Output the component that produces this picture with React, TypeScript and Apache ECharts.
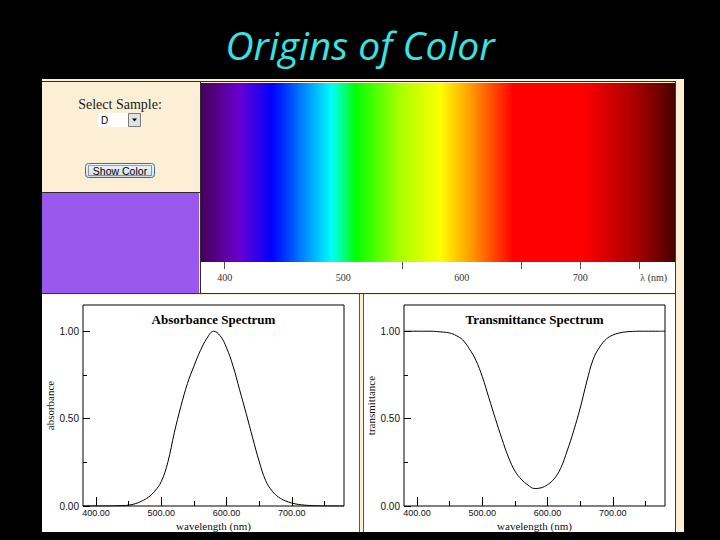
import React, { useEffect, useRef } from "react";
import * as echarts from "echarts";

// ---- data ----
const wavelengths = [380, 390, 400, 410, 420, 430, 440, 450, 460, 470, 480, 490, 500, 510, 520, 530, 540, 550, 560, 570, 580, 590, 600, 610, 620, 630, 640, 650, 660, 670, 680, 690, 700, 710, 720, 730, 740, 750, 760, 770, 780];
const absorbance = [0, 0, 0, 0, 0, 0.001, 0.002, 0.005, 0.013, 0.028, 0.05, 0.085, 0.14, 0.25, 0.42, 0.57, 0.7, 0.8, 0.89, 0.96, 1.0, 0.975, 0.905, 0.8, 0.665, 0.53, 0.39, 0.255, 0.145, 0.085, 0.05, 0.03, 0.017, 0.009, 0.005, 0.002, 0.001, 0, 0, 0, 0];
const transmittance = [1, 1, 1, 1, 1, 0.998, 0.995, 0.99, 0.975, 0.95, 0.9, 0.835, 0.74, 0.62, 0.5, 0.385, 0.28, 0.2, 0.152, 0.12, 0.1, 0.104, 0.122, 0.155, 0.215, 0.315, 0.43, 0.56, 0.71, 0.84, 0.91, 0.955, 0.978, 0.99, 0.996, 0.999, 1, 1, 1, 1, 1];

const spectrumNm = [380, 395, 412, 440, 462, 490, 510, 545, 582, 612, 643, 702, 728, 750, 768, 780];
const spectrumColors = ["#46005C", "#58008E", "#6A00D2", "#0000FF", "#0070FF", "#00FFFF", "#00FF00", "#A0FF00", "#FFFF00", "#FF8800", "#FF0000", "#FF0000", "#CC0000", "#A00000", "#6C0000", "#440000"];

const spectrumTicks = [400, 550, 650, 700, 750];
const spectrumLabels = [400, 500, 600, 700, 762];
const majorX = [400, 500, 600, 700];
const minorX = [450, 550, 650, 750];
const majorY = [0, 0.5, 1];
const minorY = [0.25, 0.75];

const SERIF = '"Liberation Serif", "DejaVu Serif", serif';
const SANS = '"Liberation Sans", Arial, sans-serif';
const BEIGE = "#FCEFD6";

function chartAxes(gridIndex: number, yName: string, yGap: number) {
  const xMajor = {
    type: "value", gridIndex, min: 380, max: 780, position: "bottom",
    axisLine: { show: false }, splitLine: { show: false },
    axisTick: { show: true, inside: true, length: 9, customValues: majorX, lineStyle: { color: "#000", width: 1 } },
    axisLabel: { show: true, customValues: majorX, margin: 2, fontSize: 9, fontFamily: SANS, color: "#111", formatter: (v: number) => v.toFixed(2) },
    name: "wavelength (nm)", nameLocation: "middle", nameGap: 14,
    nameTextStyle: { fontFamily: SERIF, fontSize: 11, color: "#111" },
  };
  const xMinor = {
    type: "value", gridIndex, min: 380, max: 780, position: "bottom",
    axisLine: { show: false }, splitLine: { show: false }, axisLabel: { show: false },
    axisTick: { show: true, inside: true, length: 5, customValues: minorX, lineStyle: { color: "#000", width: 1 } },
  };
  const yMajor = {
    type: "value", gridIndex, min: 0, max: 1.15, position: "left",
    axisLine: { show: false }, splitLine: { show: false },
    axisTick: { show: true, inside: true, length: 7, customValues: majorY, lineStyle: { color: "#000", width: 1 } },
    axisLabel: { show: true, customValues: majorY, margin: 4, fontSize: 10, fontFamily: SANS, color: "#111", formatter: (v: number) => v.toFixed(2) },
    name: yName, nameLocation: "middle", nameGap: yGap, nameRotate: 90,
    nameTextStyle: { fontFamily: SERIF, fontSize: 11, color: "#111" },
  };
  const yMinor = {
    type: "value", gridIndex, min: 0, max: 1.15, position: "left",
    axisLine: { show: false }, splitLine: { show: false }, axisLabel: { show: false },
    axisTick: { show: true, inside: true, length: 4, customValues: minorY, lineStyle: { color: "#000", width: 1 } },
  };
  return { xMajor, xMinor, yMajor, yMinor };
}

export default function App() {
  const ref = useRef<HTMLDivElement>(null);

  useEffect(() => {
    if (!ref.current) return;
    const chart = echarts.init(ref.current, null, { renderer: "svg" });

    const abs = chartAxes(1, "absorbance", 28);
    const tr = chartAxes(2, "transmittance", 27);

    const panel = (x: number, y: number, w: number, h: number, fill: string) => ({
      type: "rect", z: -10, silent: true, shape: { x, y, width: w, height: h }, style: { fill },
    });
    const hline = (x1: number, x2: number, y: number, color: string) => ({
      type: "line", z: -9, silent: true, shape: { x1, y1: y, x2, y2: y }, style: { stroke: color, lineWidth: 1 },
    });
    const vline = (x: number, y1: number, y2: number, color: string) => ({
      type: "line", z: -9, silent: true, shape: { x1: x, y1, x2: x, y2 }, style: { stroke: color, lineWidth: 1 },
    });

    const option: any = {
      animation: false,
      backgroundColor: "#000000",
      title: {
        text: "Origins of Color", left: "center", top: 20,
        textStyle: { color: "#38E3E3", fontStyle: "italic", fontWeight: "normal", fontFamily: "'Open Sans', 'Noto Sans', sans-serif", fontSize: 39 },
      },
      graphic: [
        panel(42, 79, 642, 453, BEIGE),
        hline(42, 676, 81.5, "#2b2b2b"),
        hline(42, 200, 192.5, "#2b2b2b"),
        panel(42, 193, 157, 100, "#9B58EE"),
        vline(200.5, 82, 293, "#2b2b2b"),
        panel(201, 262, 474, 31, "#FFFFFF"),
        hline(42, 676, 293.5, "#333333"),
        panel(42, 295, 317, 237, "#FFFFFF"),
        vline(359.5, 294, 532, "#555555"),
        vline(363.5, 294, 532, "#555555"),
        panel(364, 295, 312, 237, "#FFFFFF"),
        vline(675.5, 82, 532, "#3a3a3a"),
        // sample selector
        { type: "text", z: -8, style: { text: "Select Sample:", x: 120, y: 104, align: "center", verticalAlign: "middle", font: `14px ${SERIF}`, fill: "#1a1a1a" } },
        { type: "rect", z: -8, shape: { x: 98, y: 113, width: 44, height: 14 }, style: { fill: "#FFFFFF" } },
        { type: "text", z: -7, style: { text: "D", x: 101, y: 120.5, align: "left", verticalAlign: "middle", font: `10px ${SANS}`, fill: "#000" } },
        { type: "rect", z: -7, shape: { x: 128.5, y: 113.5, width: 12, height: 13 }, style: { fill: "#E2E2E2", stroke: "#7a7a7a", lineWidth: 1 } },
        { type: "polygon", z: -6, shape: { points: [[132, 118.5], [137, 118.5], [134.5, 121.5]] }, style: { fill: "#000" } },
        // button
        {
          type: "rect", z: -8, shape: { x: 85.5, y: 163.5, width: 69, height: 14, r: 3 },
          style: {
            fill: new echarts.graphic.LinearGradient(0, 0, 0, 1, [{ offset: 0, color: "#F4F8FB" }, { offset: 1, color: "#CADCE9" }]),
            stroke: "#3C6F95", lineWidth: 1,
          },
        },
        { type: "rect", z: -7, shape: { x: 88.5, y: 165.5, width: 63, height: 10 }, style: { fill: "none", stroke: "#444", lineWidth: 1, lineDash: [1, 1] } },
        { type: "text", z: -6, style: { text: "Show Color", x: 120, y: 171, align: "center", verticalAlign: "middle", font: `10.5px ${SANS}`, fill: "#000" } },
        // chart titles
        { type: "text", z: 10, style: { text: "Absorbance Spectrum", x: 213.5, y: 319, align: "center", verticalAlign: "middle", font: `bold 13px ${SERIF}`, fill: "#000" } },
        { type: "text", z: 10, style: { text: "Transmittance Spectrum", x: 534.5, y: 319, align: "center", verticalAlign: "middle", font: `bold 13px ${SERIF}`, fill: "#000" } },
      ],
      grid: [
        { left: 201, top: 83, width: 474, height: 179, show: false },
        { left: 83, top: 305, width: 261, height: 201, show: true, borderColor: "#000", borderWidth: 1, backgroundColor: "transparent" },
        { left: 404, top: 305, width: 261, height: 201, show: true, borderColor: "#000", borderWidth: 1, backgroundColor: "transparent" },
      ],
      xAxis: [
        {
          type: "value", gridIndex: 0, min: 380, max: 780, position: "bottom",
          axisLine: { show: false }, splitLine: { show: false },
          axisTick: { show: true, length: 7, customValues: spectrumTicks, lineStyle: { color: "#555", width: 1 } },
          axisLabel: {
            show: true, customValues: spectrumLabels, margin: 10, fontSize: 10, fontFamily: SERIF, color: "#333",
            formatter: (v: number) => (v === 762 ? "λ (nm)" : String(v)),
          },
        },
        abs.xMajor, abs.xMinor, tr.xMajor, tr.xMinor,
      ],
      yAxis: [
        { type: "value", gridIndex: 0, min: 0, max: 1, show: false },
        abs.yMajor, abs.yMinor, tr.yMajor, tr.yMinor,
      ],
      series: [
        {
          type: "custom", xAxisIndex: 0, yAxisIndex: 0, clip: true, silent: true,
          data: spectrumNm.map((w, i) => [w, i]),
          encode: { x: 0 },
          renderItem: (params: any, api: any) => {
            const i = params.dataIndex;
            if (i >= spectrumNm.length - 1) return { type: "group", children: [] };
            const p0 = api.coord([spectrumNm[i], 1]);
            const p1 = api.coord([spectrumNm[i + 1], 0]);
            const extra = i < spectrumNm.length - 2 ? 0.8 : 0;
            return {
              type: "rect",
              shape: { x: p0[0], y: p0[1], width: p1[0] - p0[0] + extra, height: p1[1] - p0[1] },
              style: {
                fill: new echarts.graphic.LinearGradient(0, 0, 1, 0, [
                  { offset: 0, color: spectrumColors[i] },
                  { offset: 1, color: spectrumColors[i + 1] },
                ]),
              },
            };
          },
        },
        {
          type: "line", xAxisIndex: 1, yAxisIndex: 1, showSymbol: false, smooth: 0.4, silent: true,
          data: wavelengths.map((w, i) => [w, absorbance[i]]),
          lineStyle: { color: "#000", width: 1 },
        },
        {
          type: "line", xAxisIndex: 3, yAxisIndex: 3, showSymbol: false, smooth: 0.4, silent: true,
          data: wavelengths.map((w, i) => [w, transmittance[i]]),
          lineStyle: { color: "#000", width: 1 },
        },
      ],
    };

    chart.setOption(option);
    return () => chart.dispose();
  }, []);

  return <div ref={ref} style={{ position: "fixed", left: 0, top: 0, width: 720, height: 540 }} />;
}
